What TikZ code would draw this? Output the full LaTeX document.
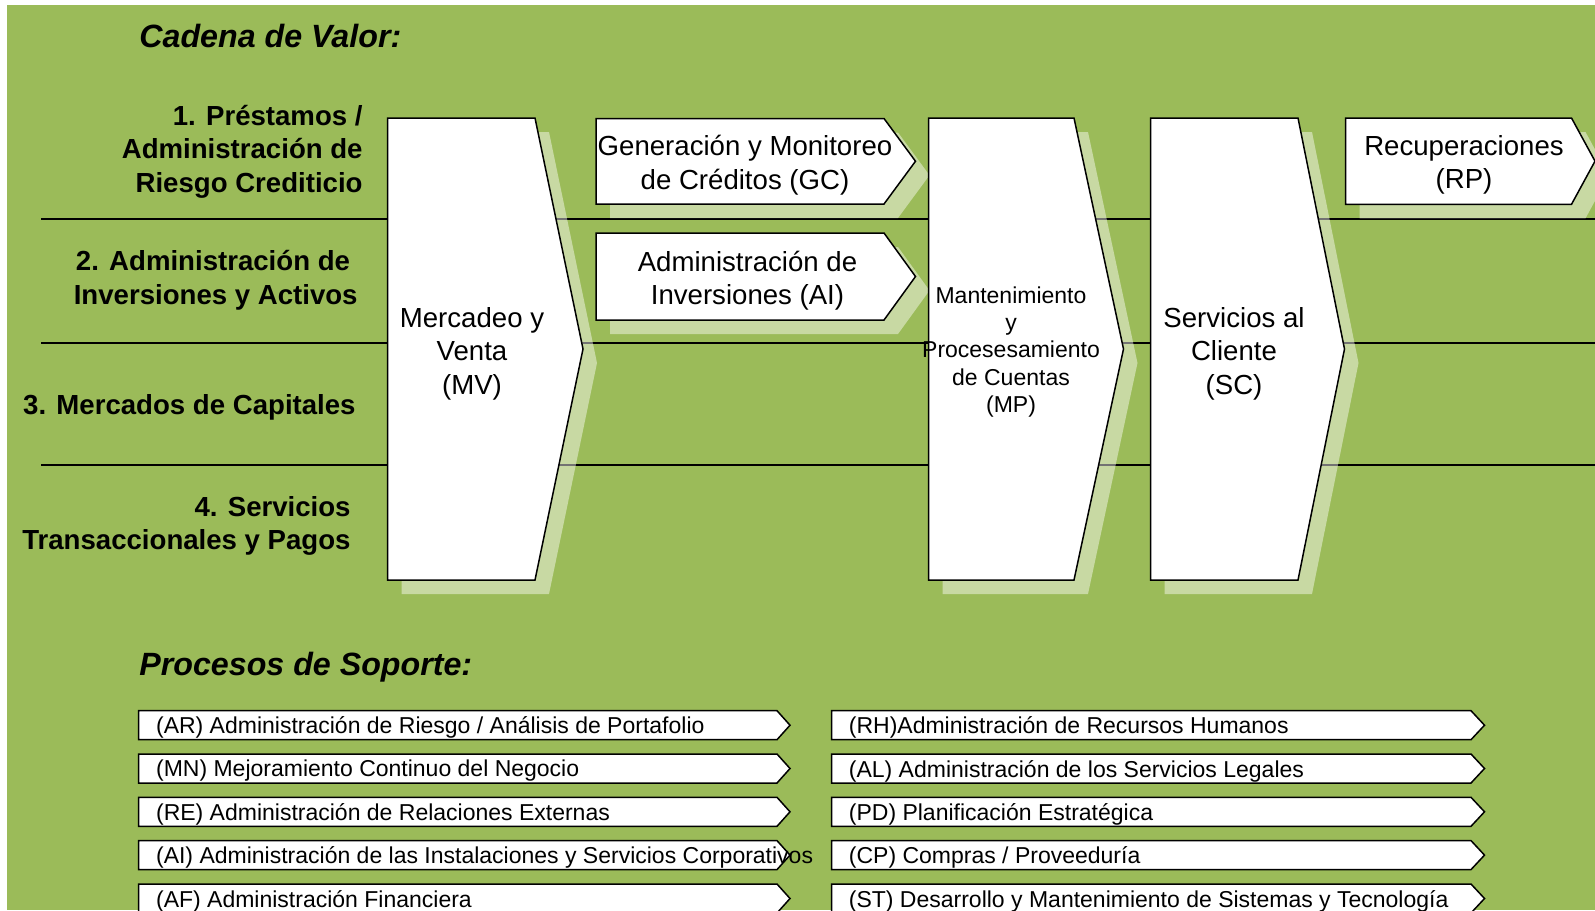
\documentclass[tikz,border=0pt]{standalone}
\usepackage{fontspec}
\setmainfont{Liberation Sans}
\definecolor{bggreen}{HTML}{9BBB59}

\tikzset{
  procbox/.style={draw=black, fill=white, line width=0.75pt, line join=miter},
  procshadow/.style={fill=white, fill opacity=0.45},
  laneline/.style={draw=black, line width=0.75pt},
  bigtext/.style={font=\fontsize{13.8}{16.8}\selectfont, align=center, inner sep=0pt},
  smalltext/.style={font=\fontsize{11.5}{13.7}\selectfont, align=center, inner sep=0pt},
  lanelabel/.style={font=\bfseries\fontsize{13.8}{16.8}\selectfont, align=right, anchor=east, inner sep=0pt},
  sectitle/.style={font=\bfseries\itshape\fontsize{16.1}{19}\selectfont, anchor=base west, inner sep=0pt},
  suptext/.style={font=\fontsize{11.5}{13.8}\selectfont, anchor=west, inner sep=0pt},
}

% value-chain step: left x, top y, flat-end x, tip x, bottom y
\newcommand\valuestep[5]{%
  \path[procshadow, shift={(14,14)}] (#1,#2) -- (#3,#2) -- (#4,{(#2+#5)/2}) -- (#3,#5) -- (#1,#5) -- cycle;
  \draw[procbox] (#1,#2) -- (#3,#2) -- (#4,{(#2+#5)/2}) -- (#3,#5) -- (#1,#5) -- cycle;
}
% support process bar: left x, top y, flat-end x, tip x, name, text
\newcommand\supportbar[6]{%
  \draw[procbox] (#1,#2) -- (#3,#2) -- (#4,#2+14.5) -- (#3,#2+29) -- (#1,#2+29) -- cycle;
  \node[suptext] (#5) at (#1+17,#2+17) {#6};
}

\begin{document}
\begin{tikzpicture}[x=0.5pt, y=-0.5pt]
  \useasboundingbox (0,0) rectangle (1595,910);
  \fill[white] (0,0) rectangle (1595,910);
  \fill[bggreen] (7,5) rectangle (1595,910);

  % section titles
  \node[sectitle] (cadena) at (139,47.5) {Cadena de Valor:};
  \node[sectitle] (soporte) at (139,675.5) {Procesos de Soporte:};

  % lanes
  \coordinate (l1a) at (41,219);  \coordinate (l1b) at (1595,219);
  \coordinate (l2a) at (41,343);  \coordinate (l2b) at (1595,343);
  \coordinate (l3a) at (41,465);  \coordinate (l3b) at (1595,465);
  \draw[laneline] (l1a) -- (l1b);
  \draw[laneline] (l2a) -- (l2b);
  \draw[laneline] (l3a) -- (l3b);

  \node[lanelabel] (lane1) at (363,151.5) {1. Préstamos /\\Administración de\\Riesgo Crediticio};
  \node[lanelabel] (lane2) at (358,280) {2. Administración de\hspace*{3.8pt}\\Inversiones y Activos};
  \node[lanelabel] (lane3) at (356,407.5) {3. Mercados de Capitales};
  \node[lanelabel] (lane4) at (351,526) {4. Servicios\\Transaccionales y Pagos};

  % value chain steps
  \valuestep{387.5}{118}{535}{583}{580}
  \valuestep{596}{118.5}{884}{915.5}{204}
  \valuestep{596}{233}{884}{915.5}{320}
  \valuestep{928.5}{118}{1074}{1123.5}{580}
  \valuestep{1150.5}{118}{1298}{1344.5}{580}
  \valuestep{1345.5}{118}{1571.5}{1595}{204.3}

  \node[bigtext] (mv) at (472,353.5) {Mercadeo y\\Venta\\(MV)};
  \node[bigtext] (gc) at (745,165) {Generación y Monitoreo\\de Créditos (GC)};
  \node[bigtext] (ai) at (747.5,280.5) {Administración de\\Inversiones (AI)};
  \node[smalltext] (mp) at (1011,352) {Mantenimiento\\y\\Procesesamiento\\de Cuentas\\(MP)};
  \node[bigtext] (sc) at (1234,353.5) {Servicios al\\Cliente\\(SC)};
  \node[bigtext] (rp) at (1464,165) {Recuperaciones\\(RP)};

  % support processes
  \supportbar{138.7}{710.7}{777}{790}{ar}{(AR) Administración de Riesgo / Análisis de Portafolio}
  \supportbar{138.7}{754}{777}{790}{mn}{(MN) Mejoramiento Continuo del Negocio}
  \supportbar{138.7}{797.3}{777}{790}{re}{(RE) Administración de Relaciones Externas}
  \supportbar{138.7}{840.6}{777}{790}{aic}{(AI) Administración de las Instalaciones y Servicios Corporativos}
  \supportbar{138.7}{884}{777}{790}{af}{(AF) Administración Financiera}

  \supportbar{831.5}{710.7}{1471}{1484.5}{rh}{(RH)Administración de Recursos Humanos}
  \supportbar{831.5}{754}{1471}{1484.5}{al}{(AL) Administración de los Servicios Legales}
  \supportbar{831.5}{797.3}{1471}{1484.5}{pd}{(PD) Planificación Estratégica}
  \supportbar{831.5}{840.6}{1471}{1484.5}{cp}{(CP) Compras / Proveeduría}
  \supportbar{831.5}{884}{1471}{1484.5}{st}{(ST) Desarrollo y Mantenimiento de Sistemas y Tecnología}
\end{tikzpicture}
\end{document}
